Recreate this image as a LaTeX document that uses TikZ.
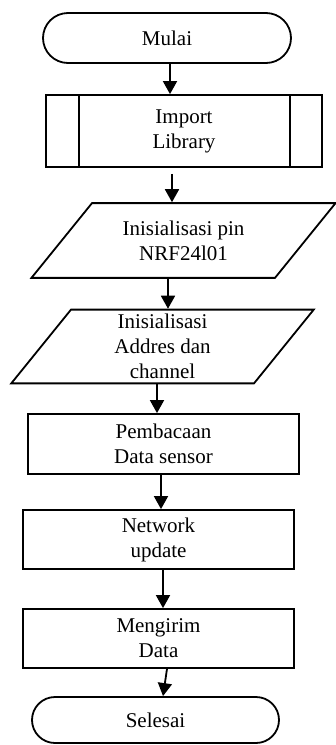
\documentclass[tikz,border=0pt]{standalone}
\usepackage{fontspec}
\setmainfont{Liberation Serif}
\usetikzlibrary{shapes.geometric, arrows.meta}

\begin{document}
\begin{tikzpicture}[x=1pt, y=-1pt, line width=1.8pt, align=center, font=\fontsize{21}{25}\selectfont]
	\tikzstyle{terminal}=[draw, rounded corners=25pt, minimum width=248pt, minimum height=50pt, inner sep=0pt]
	\tikzstyle{proses}=[draw, rectangle, minimum width=271pt, minimum height=59pt, inner sep=0pt]
	\tikzstyle{io}=[draw, trapezium, trapezium left angle=51, trapezium right angle=129, text width=183pt, align=flush center, inner xsep=0pt]
	\tikzstyle{panah}=[-{Triangle[length=13pt, width=14pt]}]

	\useasboundingbox (0,0) rectangle (335,745);

	\node[terminal](mulai) at (167,38){Mulai};
	\node[proses, minimum width=276pt, minimum height=72pt](impor) at (184,131){Import\\Library};
	\node[io, inner ysep=17.5pt](pin) at (183.5,240.5){Inisialisasi pin\\NRF24l01};
	\node[io, inner ysep=4.5pt](alamat) at (162.5,346.5){Inisialisasi\\Addres dan\\channel};
	\node[proses, minimum height=60pt](baca) at (163.5,444){Pembacaan\\Data sensor};
	\node[proses](network) at (158.5,539.5){Network\\update};
	\node[proses](kirim) at (158.5,638.5){Mengirim\\Data};
	\node[terminal, minimum width=247pt, minimum height=46pt, rounded corners=23pt](selesai) at (155.5,720){Selesai};

	% garis tepi subprogram
	\draw ([xshift=34pt]impor.north west) -- ([xshift=34pt]impor.south west);
	\draw ([xshift=-33pt]impor.north east) -- ([xshift=-33pt]impor.south east);

	\draw[panah] (170,0 |- mulai.south) -- (170,0 |- impor.north);
	\draw[panah, shorten <=6pt] (172,0 |- impor.south) -- (172,0 |- pin.north);
	\draw[panah] (168,0 |- pin.south) -- (168,0 |- alamat.north);
	\draw[panah] (157,0 |- alamat.south) -- (157,0 |- baca.north);
	\draw[panah] (161,0 |- baca.south) -- (161,0 |- network.north);
	\draw[panah] (163,0 |- network.south) -- (163,0 |- kirim.north);
	\draw[panah] (167,0 |- kirim.south) -- (163,0 |- selesai.north);
\end{tikzpicture}
\end{document}
